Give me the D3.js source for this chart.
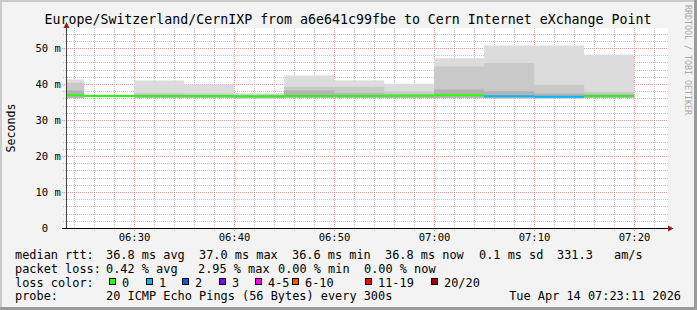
<!DOCTYPE html>
<html>
<head>
<meta charset="utf-8">
<script src="https://cdn.jsdelivr.net/npm/d3@7"></script>
<style>
body { margin: 0; background: #fff; }
svg { display: block; }
text { font-family: "DejaVu Sans Mono", monospace; white-space: pre; }
</style>
</head>
<body>
<div id="chart"></div>
<script>
// 5 minute smokeping steps, 20 pings each (values in ms)
const day = '2026-04-14 ';
const intervalStart = ['06:20', '06:25', '06:30', '06:35', '06:40', '06:45', '06:50', '06:55', '07:00', '07:05', '07:10', '07:15'];
const intervalEnd = '07:20';
const smokeMax = [41.4, 37.0, 41.1, 40.0, 37.6, 42.5, 41.1, 40.2, 47.3, 50.8, 50.8, 48.3];
const smokeHi  = [40.5, 36.9, 37.6, 37.5, 37.2, 39.4, 39.4, 38.1, 45.0, 46.0, 39.9, 38.0];
const smokeMid = [38.3, 36.9, 37.2, 37.1, 37.0, 38.3, 37.6, 37.3, 38.6, 38.1, 37.5, 37.3];
const smokeMin = [36.3, 36.5, 36.3, 36.3, 36.2, 36.3, 36.3, 36.3, 36.3, 36.2, 36.2, 36.3];
const median   = [37.0, 36.8, 36.8, 36.8, 36.7, 36.8, 36.8, 36.9, 37.0, 36.7, 36.6, 36.8];
const lossIndex = [0, 0, 0, 0, 0, 0, 0, 0, 0, 1, 1, 0];

const lossLabels = ['0', '1', '2', '3', '4-5', '6-10', '11-19', '20/20'];
const lossColors = ['#26ff00', '#00b8ff', '#0059ff', '#7e00ff', '#ff00ff', '#ff5500', '#ff0000', '#a10000'];

const yTicks = [0, 10, 20, 30, 40, 50];
const xTickLabels = ['06:30', '06:40', '06:50', '07:00', '07:10', '07:20'];

const title = 'Europe/Switzerland/CernIXP from a6e641c99fbe to Cern Internet eXchange Point';
const rttItems = ['median rtt:', '36.8 ms avg', '37.0 ms max', '36.6 ms min', '36.8 ms now', '0.1 ms sd', '331.3', 'am/s'];
const lossItems = ['packet loss:', '0.42 % avg', '2.95 % max', '0.00 % min', '0.00 % now'];
const probeItems = ['probe:', '20 ICMP Echo Pings (56 Bytes) every 300s'];
const stamp = 'Tue Apr 14 07:23:11 2026';

// layout
const W = 697, H = 310;
const parseT = d3.timeParse('%Y-%m-%d %H:%M:%S');
const t = s => parseT(day + (s.length === 5 ? s + ':00' : s));

const x = d3.scaleTime()
  .domain([t('06:23:11'), t('07:23:11')])
  .range([66, 666]);
const y = d3.scaleLinear()
  .domain([0, 55.55])
  .range([228.5, 28.5]);

const svg = d3.select('#chart').append('svg')
  .attr('width', W)
  .attr('height', H);

// background + 3d border
svg.append('rect').attr('width', W).attr('height', H).attr('fill', '#f3f3f3');
svg.append('path').attr('d', `M0,0H${W}V2H2V${H}H0Z`).attr('fill', '#cbcbcb');
svg.append('path').attr('d', `M${W},${H}H0V${H - 3}H${W - 3}V0H${W}Z`).attr('fill', '#9b9b9b');

svg.append('rect')
  .attr('x', 66).attr('y', 28)
  .attr('width', 602).attr('height', 200)
  .attr('fill', '#fff');

// grid
const grid = svg.append('g');
const minorX = d3.timeMinute.every(2).range(x.domain()[0], x.domain()[1]);
grid.selectAll('.vminor')
  .data(minorX.filter(d => d.getMinutes() % 10 !== 0))
  .enter().append('line')
  .attr('x1', d => Math.round(x(d)) + 0.5)
  .attr('x2', d => Math.round(x(d)) + 0.5)
  .attr('y1', 28).attr('y2', 231)
  .attr('stroke', '#c4c4c4')
  .attr('stroke-dasharray', '1,1');

const minorY = d3.range(2, 56, 2).filter(v => v % 10 !== 0);
grid.selectAll('.hminor')
  .data(minorY)
  .enter().append('line')
  .attr('x1', 63).attr('x2', 668)
  .attr('y1', d => Math.floor(y(d)) + 0.5)
  .attr('y2', d => Math.floor(y(d)) + 0.5)
  .attr('stroke', '#c4c4c4')
  .attr('stroke-dasharray', '1,1');

grid.selectAll('.vmajor')
  .data(xTickLabels)
  .enter().append('line')
  .attr('x1', d => Math.round(x(t(d))) + 0.5)
  .attr('x2', d => Math.round(x(t(d))) + 0.5)
  .attr('y1', 28).attr('y2', 232)
  .attr('stroke', '#f29a9a')
  .attr('stroke-dasharray', '1,1');

grid.selectAll('.hmajor')
  .data(yTicks.filter(v => v > 0))
  .enter().append('line')
  .attr('x1', 62).attr('x2', 668)
  .attr('y1', d => Math.floor(y(d)) + 0.5)
  .attr('y2', d => Math.floor(y(d)) + 0.5)
  .attr('stroke', '#f29a9a')
  .attr('stroke-dasharray', '1,1');

// smoke
const rows = intervalStart.map((s, i) => ({
  t: t(s), max: smokeMax[i], hi: smokeHi[i], mid: smokeMid[i], min: smokeMin[i]
}));
rows.push(Object.assign({}, rows[rows.length - 1], {t: t(intervalEnd)}));

svg.append('clipPath').attr('id', 'plot')
  .append('rect').attr('x', 67).attr('y', 28).attr('width', 600).attr('height', 200);

const data = svg.append('g').attr('clip-path', 'url(#plot)');

const bands = [
  {key: 'max', fill: '#dcdcdc'},
  {key: 'hi', fill: '#c9c9c9'},
  {key: 'mid', fill: '#b3b3b3'}
];
bands.forEach(b => {
  const area = d3.area()
    .curve(d3.curveStepAfter)
    .x(d => x(d.t))
    .y0(d => y(d.min))
    .y1(d => y(d[b.key]));
  data.append('path')
    .datum(rows)
    .attr('d', area)
    .attr('fill', b.fill);
});

// median, coloured by loss
const segLine = d3.line().x(d => x(d[0])).y(d => y(d[1]));
intervalStart.forEach((s, i) => {
  const end = i + 1 < intervalStart.length ? intervalStart[i + 1] : intervalEnd;
  data.append('path')
    .attr('d', segLine([[t(s), median[i]], [t(end), median[i]]]))
    .attr('stroke', lossColors[lossIndex[i]])
    .attr('stroke-width', 2)
    .attr('fill', 'none');
});

// axes
svg.append('line')
  .attr('x1', 66.5).attr('x2', 66.5)
  .attr('y1', 26).attr('y2', 229)
  .attr('stroke', '#404040');
svg.append('line')
  .attr('x1', 62).attr('x2', 669)
  .attr('y1', 228.5).attr('y2', 228.5)
  .attr('stroke', '#000');
svg.append('path')
  .attr('d', 'M668,225.5L673.5,228.5L668,231.5Z')
  .attr('fill', '#9a1c1c');
svg.append('path')
  .attr('d', 'M63.5,28L66.5,22L69.5,28Z')
  .attr('fill', '#9a1c1c');

// tick labels
const yFmt = d3.format('2d');
svg.selectAll('.ylab')
  .data(yTicks)
  .enter().append('text')
  .attr('x', 35.5)
  .attr('y', d => y(d) + 3.8)
  .attr('font-size', 10.5)
  .attr('xml:space', 'preserve')
  .text(d => d === 0 ? yFmt(d) : yFmt(d) + ' m');

svg.selectAll('.xlab')
  .data(xTickLabels)
  .enter().append('text')
  .attr('x', d => Math.round(x(t(d))) + 0.5)
  .attr('y', 241)
  .attr('text-anchor', 'middle')
  .attr('font-size', 10.5)
  .text(d => d);

// titles
svg.append('text')
  .attr('x', 348).attr('y', 23.5)
  .attr('text-anchor', 'middle')
  .attr('font-size', 13.27)
  .text(title);

svg.append('text')
  .attr('transform', 'translate(15,128) rotate(-90)')
  .attr('text-anchor', 'middle')
  .attr('font-size', 11.6)
  .text('Seconds');

svg.append('text')
  .attr('transform', 'translate(685,5) rotate(90)')
  .attr('font-size', 8.3)
  .attr('fill', '#a8a8a8')
  .text('RRDTOOL / TOBI OETIKER');

// legend
const legendFont = 11.9;
const rttX = [15, 106, 199, 292, 385, 479, 557, 614];
const lossX = [15, 106, 198, 278, 364];
const probeX = [15, 106];

function legendRow(items, xs, baseline) {
  svg.append('g').selectAll('text')
    .data(items)
    .enter().append('text')
    .attr('x', (d, i) => xs[i])
    .attr('y', baseline)
    .attr('font-size', legendFont)
    .text(d => d);
}
legendRow(rttItems, rttX, 258.5);
legendRow(lossItems, lossX, 272.5);
legendRow(probeItems, probeX, 300);

svg.append('text')
  .attr('x', 15).attr('y', 286.5)
  .attr('font-size', legendFont)
  .text('loss color:');

const keyX = [109, 146, 182, 219, 255, 292, 365, 431];
const key = svg.append('g').selectAll('g')
  .data(lossLabels)
  .enter().append('g')
  .attr('transform', (d, i) => `translate(${keyX[i]},0)`);
key.append('rect')
  .attr('x', 0.5).attr('y', 278.5)
  .attr('width', 6).attr('height', 6)
  .attr('fill', (d, i) => lossColors[i])
  .attr('stroke', '#000');
key.append('text')
  .attr('x', 13)
  .attr('y', 286.5)
  .attr('font-size', legendFont)
  .text(d => d);

svg.append('text')
  .attr('x', 681).attr('y', 300)
  .attr('text-anchor', 'end')
  .attr('font-size', legendFont)
  .text(stamp);
</script>
</body>
</html>
